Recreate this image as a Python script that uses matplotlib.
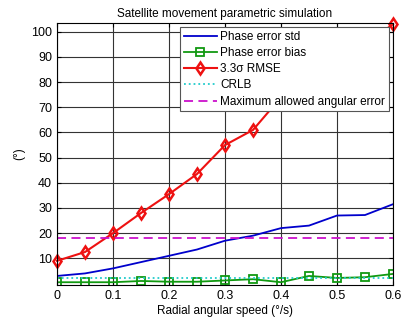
import numpy as np
import matplotlib
matplotlib.use("Agg")
import matplotlib.pyplot as plt

plt.rcParams['font.family'] = ['Liberation Sans', 'DejaVu Sans']

speed = [0, 0.05, 0.1, 0.15, 0.2, 0.25, 0.3, 0.35, 0.4, 0.45, 0.5, 0.55, 0.6]
phase_std = [3, 4, 6, 8.5, 11, 13.5, 17, 19, 22, 23, 27, 27.2, 31.5]
phase_bias = [0.5, 0.5, 0.5, 1, 0.7, 0.7, 1.2, 1.7, 0.5, 3, 2.2, 2.5, 3.8]
rmse = [9, 12.5, 20, 28, 35.5, 43.5, 55, 61, 74, 82, 88, 95, 103]
crlb = [2, 2, 2, 2, 2, 2, 2, 2, 2, 2, 2, 2, 2]
max_err = 18

fig = plt.figure(figsize=(4.05, 3.2), dpi=100)
ax = fig.add_axes([57/405, 1-285/320, 336/405, 262/320])

ax.plot(speed, phase_std, color='#0000cc', lw=1.3, label='Phase error std')
ax.plot(speed, phase_bias, color='#119911', lw=1.3, marker='s', ms=5.5,
        mfc='none', mec='#119911', mew=1.3, label='Phase error bias')
ax.plot(speed, rmse, color='#ee1111', lw=1.5, marker='d', ms=6.5,
        mfc='none', mec='#ee1111', mew=1.8, label='3.3σ RMSE', clip_on=False)
ax.plot(speed, crlb, color='#22cccc', lw=1.3, ls=':', label='CRLB')
ax.axhline(max_err, color='#cc11cc', lw=1.3, ls=(0, (5, 3)),
           label='Maximum allowed angular error')

ax.set_xlim(0, 0.6)
ax.set_ylim(-0.6, 103.5)
ax.set_xticks(np.arange(0, 0.61, 0.1))
ax.set_xticklabels(['0', '0.1', '0.2', '0.3', '0.4', '0.5', '0.6'])
ax.set_yticks(np.arange(10, 101, 10))
ax.grid(True, color='#333333', lw=0.8)
ax.tick_params(direction='in', top=True, right=True, labelsize=9, length=3)
for s in ax.spines.values():
    s.set_linewidth(0.8)

ax.set_xlabel('Radial angular speed (°/s)', fontsize=8.5, labelpad=2)
ax.set_ylabel('(°)', fontsize=8.5, labelpad=4)
ax.set_title('Satellite movement parametric simulation', fontsize=8.5, pad=4)

leg = ax.legend(loc='upper right', fontsize=8.5, framealpha=1, fancybox=False,
                edgecolor='#555555', handlelength=2.8, handletextpad=0.3,
                borderpad=0.3, labelspacing=0.36, borderaxespad=0.35)
leg.get_frame().set_linewidth(0.8)

fig.savefig('out.png', dpi=100)
